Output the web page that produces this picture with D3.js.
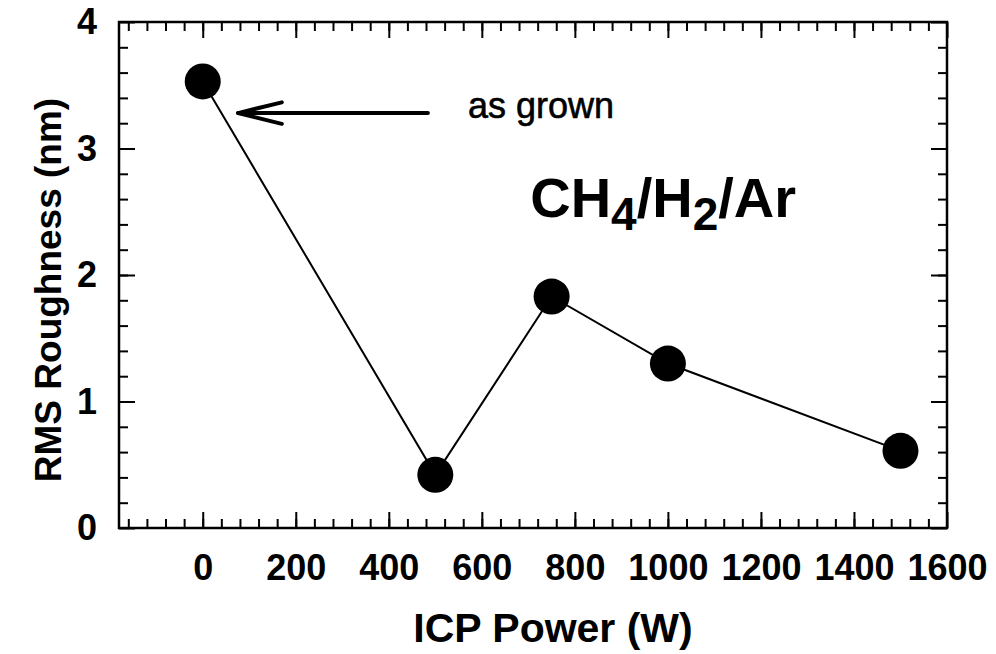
<!DOCTYPE html>
<html>
<head>
<meta charset="utf-8">
<script src="https://cdn.jsdelivr.net/npm/d3@7"></script>
<style>
  body { margin: 0; background: #fff; }
  svg text { font-family: "Liberation Sans", Arial, Helvetica, sans-serif; fill: #000; }
</style>
</head>
<body>
<svg id="chart" width="996" height="654"></svg>
<script>
// ICP power (W) vs RMS roughness (nm)
var powerW = [0, 500, 750, 1000, 1500];
var roughnessNm = [3.53, 0.42, 1.83, 1.30, 0.61];

var xMajorTicks = [0, 200, 400, 600, 800, 1000, 1200, 1400, 1600];
var yMajorTicks = [0, 1, 2, 3, 4];
var xMinorTicks = d3.range(-160, 1600, 40);
var yMinorTicks = d3.range(0.2, 4, 0.2);

// annotation: arrow pointing at the as-grown sample
var arrowShaft = [[484, 3.28], [76, 3.28]];
var arrowHead = [[170, 3.365], [76, 3.28], [170, 3.195]];
var asGrownLabel = {x: 570, y: 3.24, text: "as grown"};
var gasLabel = {x: 704, y: 2.46, parts: [["CH", false], ["4", true], ["/H", false], ["2", true], ["/Ar", false]]};

var svg = d3.select("#chart");
var plotLeft = 119, plotRight = 947, plotTop = 22, plotBottom = 528;

var x = d3.scaleLinear().domain([-180, 1600]).range([plotLeft, plotRight]);
var y = d3.scaleLinear().domain([0, 4]).range([plotBottom, plotTop]);

var majorLen = 16, minorLen = 9;

function styleAxis(g) {
  g.select(".domain").remove();
  g.selectAll(".tick line").attr("stroke", "#000").attr("stroke-width", 2);
  g.selectAll(".tick text").style("font-size", "36px").style("font-weight", "bold");
}

// bottom axis with labels, ticks pointing inward
svg.append("g").attr("transform", "translate(0," + plotBottom + ")")
  .call(d3.axisBottom(x).tickValues(xMajorTicks).tickSizeInner(-majorLen).tickSizeOuter(0).tickPadding(26).tickFormat(d3.format("d")))
  .call(styleAxis);
svg.append("g").attr("transform", "translate(0," + plotBottom + ")")
  .call(d3.axisBottom(x).tickValues(xMinorTicks).tickSizeInner(-minorLen).tickSizeOuter(0).tickFormat(""))
  .call(styleAxis);
// top axis
svg.append("g").attr("transform", "translate(0," + plotTop + ")")
  .call(d3.axisTop(x).tickValues(xMajorTicks).tickSizeInner(-majorLen).tickSizeOuter(0).tickFormat(""))
  .call(styleAxis);
svg.append("g").attr("transform", "translate(0," + plotTop + ")")
  .call(d3.axisTop(x).tickValues(xMinorTicks).tickSizeInner(-minorLen).tickSizeOuter(0).tickFormat(""))
  .call(styleAxis);

// left axis with labels
svg.append("g").attr("transform", "translate(" + plotLeft + ",0)")
  .call(d3.axisLeft(y).tickValues(yMajorTicks).tickSizeInner(-majorLen).tickSizeOuter(0).tickPadding(22).tickFormat(d3.format("d")))
  .call(styleAxis);
svg.append("g").attr("transform", "translate(" + plotLeft + ",0)")
  .call(d3.axisLeft(y).tickValues(yMinorTicks).tickSizeInner(-minorLen).tickSizeOuter(0).tickFormat(""))
  .call(styleAxis);
// right axis
svg.append("g").attr("transform", "translate(" + plotRight + ",0)")
  .call(d3.axisRight(y).tickValues(yMajorTicks).tickSizeInner(-majorLen).tickSizeOuter(0).tickFormat(""))
  .call(styleAxis);
svg.append("g").attr("transform", "translate(" + plotRight + ",0)")
  .call(d3.axisRight(y).tickValues(yMinorTicks).tickSizeInner(-minorLen).tickSizeOuter(0).tickFormat(""))
  .call(styleAxis);

// frame
svg.append("rect")
  .attr("x", plotLeft).attr("y", plotTop)
  .attr("width", plotRight - plotLeft).attr("height", plotBottom - plotTop)
  .attr("fill", "none").attr("stroke", "#000").attr("stroke-width", 2.5);

// axis titles
svg.append("text")
  .attr("x", 553).attr("y", 642)
  .attr("text-anchor", "middle")
  .style("font-size", "41px").style("font-weight", "bold")
  .text("ICP Power (W)");

svg.append("text")
  .attr("transform", "translate(61,290) rotate(-90)")
  .attr("text-anchor", "middle")
  .style("font-size", "37px").style("font-weight", "bold")
  .text("RMS Roughness (nm)");

// data line and markers
var pts = powerW.map(function(p, i) { return [p, roughnessNm[i]]; });
var line = d3.line().x(function(d) { return x(d[0]); }).y(function(d) { return y(d[1]); });

svg.append("path").datum(pts)
  .attr("d", line)
  .attr("fill", "none").attr("stroke", "#000").attr("stroke-width", 2);

svg.selectAll("circle.pt").data(pts).join("circle")
  .attr("class", "pt")
  .attr("cx", function(d) { return x(d[0]); })
  .attr("cy", function(d) { return y(d[1]); })
  .attr("r", 18)
  .attr("fill", "#000");

// arrow
svg.append("path").datum(arrowShaft)
  .attr("d", line)
  .attr("fill", "none").attr("stroke", "#000").attr("stroke-width", 4).attr("stroke-linecap", "round");
svg.append("path").datum(arrowHead)
  .attr("d", line)
  .attr("fill", "none").attr("stroke", "#000").attr("stroke-width", 4)
  .attr("stroke-linecap", "round").attr("stroke-linejoin", "round");

svg.append("text")
  .attr("x", x(asGrownLabel.x)).attr("y", y(asGrownLabel.y))
  .style("font-size", "36px")
  .attr("stroke", "#000").attr("stroke-width", 0.6)
  .text(asGrownLabel.text);

var gas = svg.append("text")
  .attr("x", x(gasLabel.x)).attr("y", y(gasLabel.y))
  .style("font-size", "56px").style("font-weight", "bold");
gasLabel.parts.forEach(function(p, i) {
  var prev = i > 0 && gasLabel.parts[i - 1][1];
  gas.append("tspan")
    .attr("dy", p[1] ? 13 : (prev ? -13 : 0))
    .style("font-size", p[1] ? "46px" : "56px")
    .text(p[0]);
});
</script>
</body>
</html>
